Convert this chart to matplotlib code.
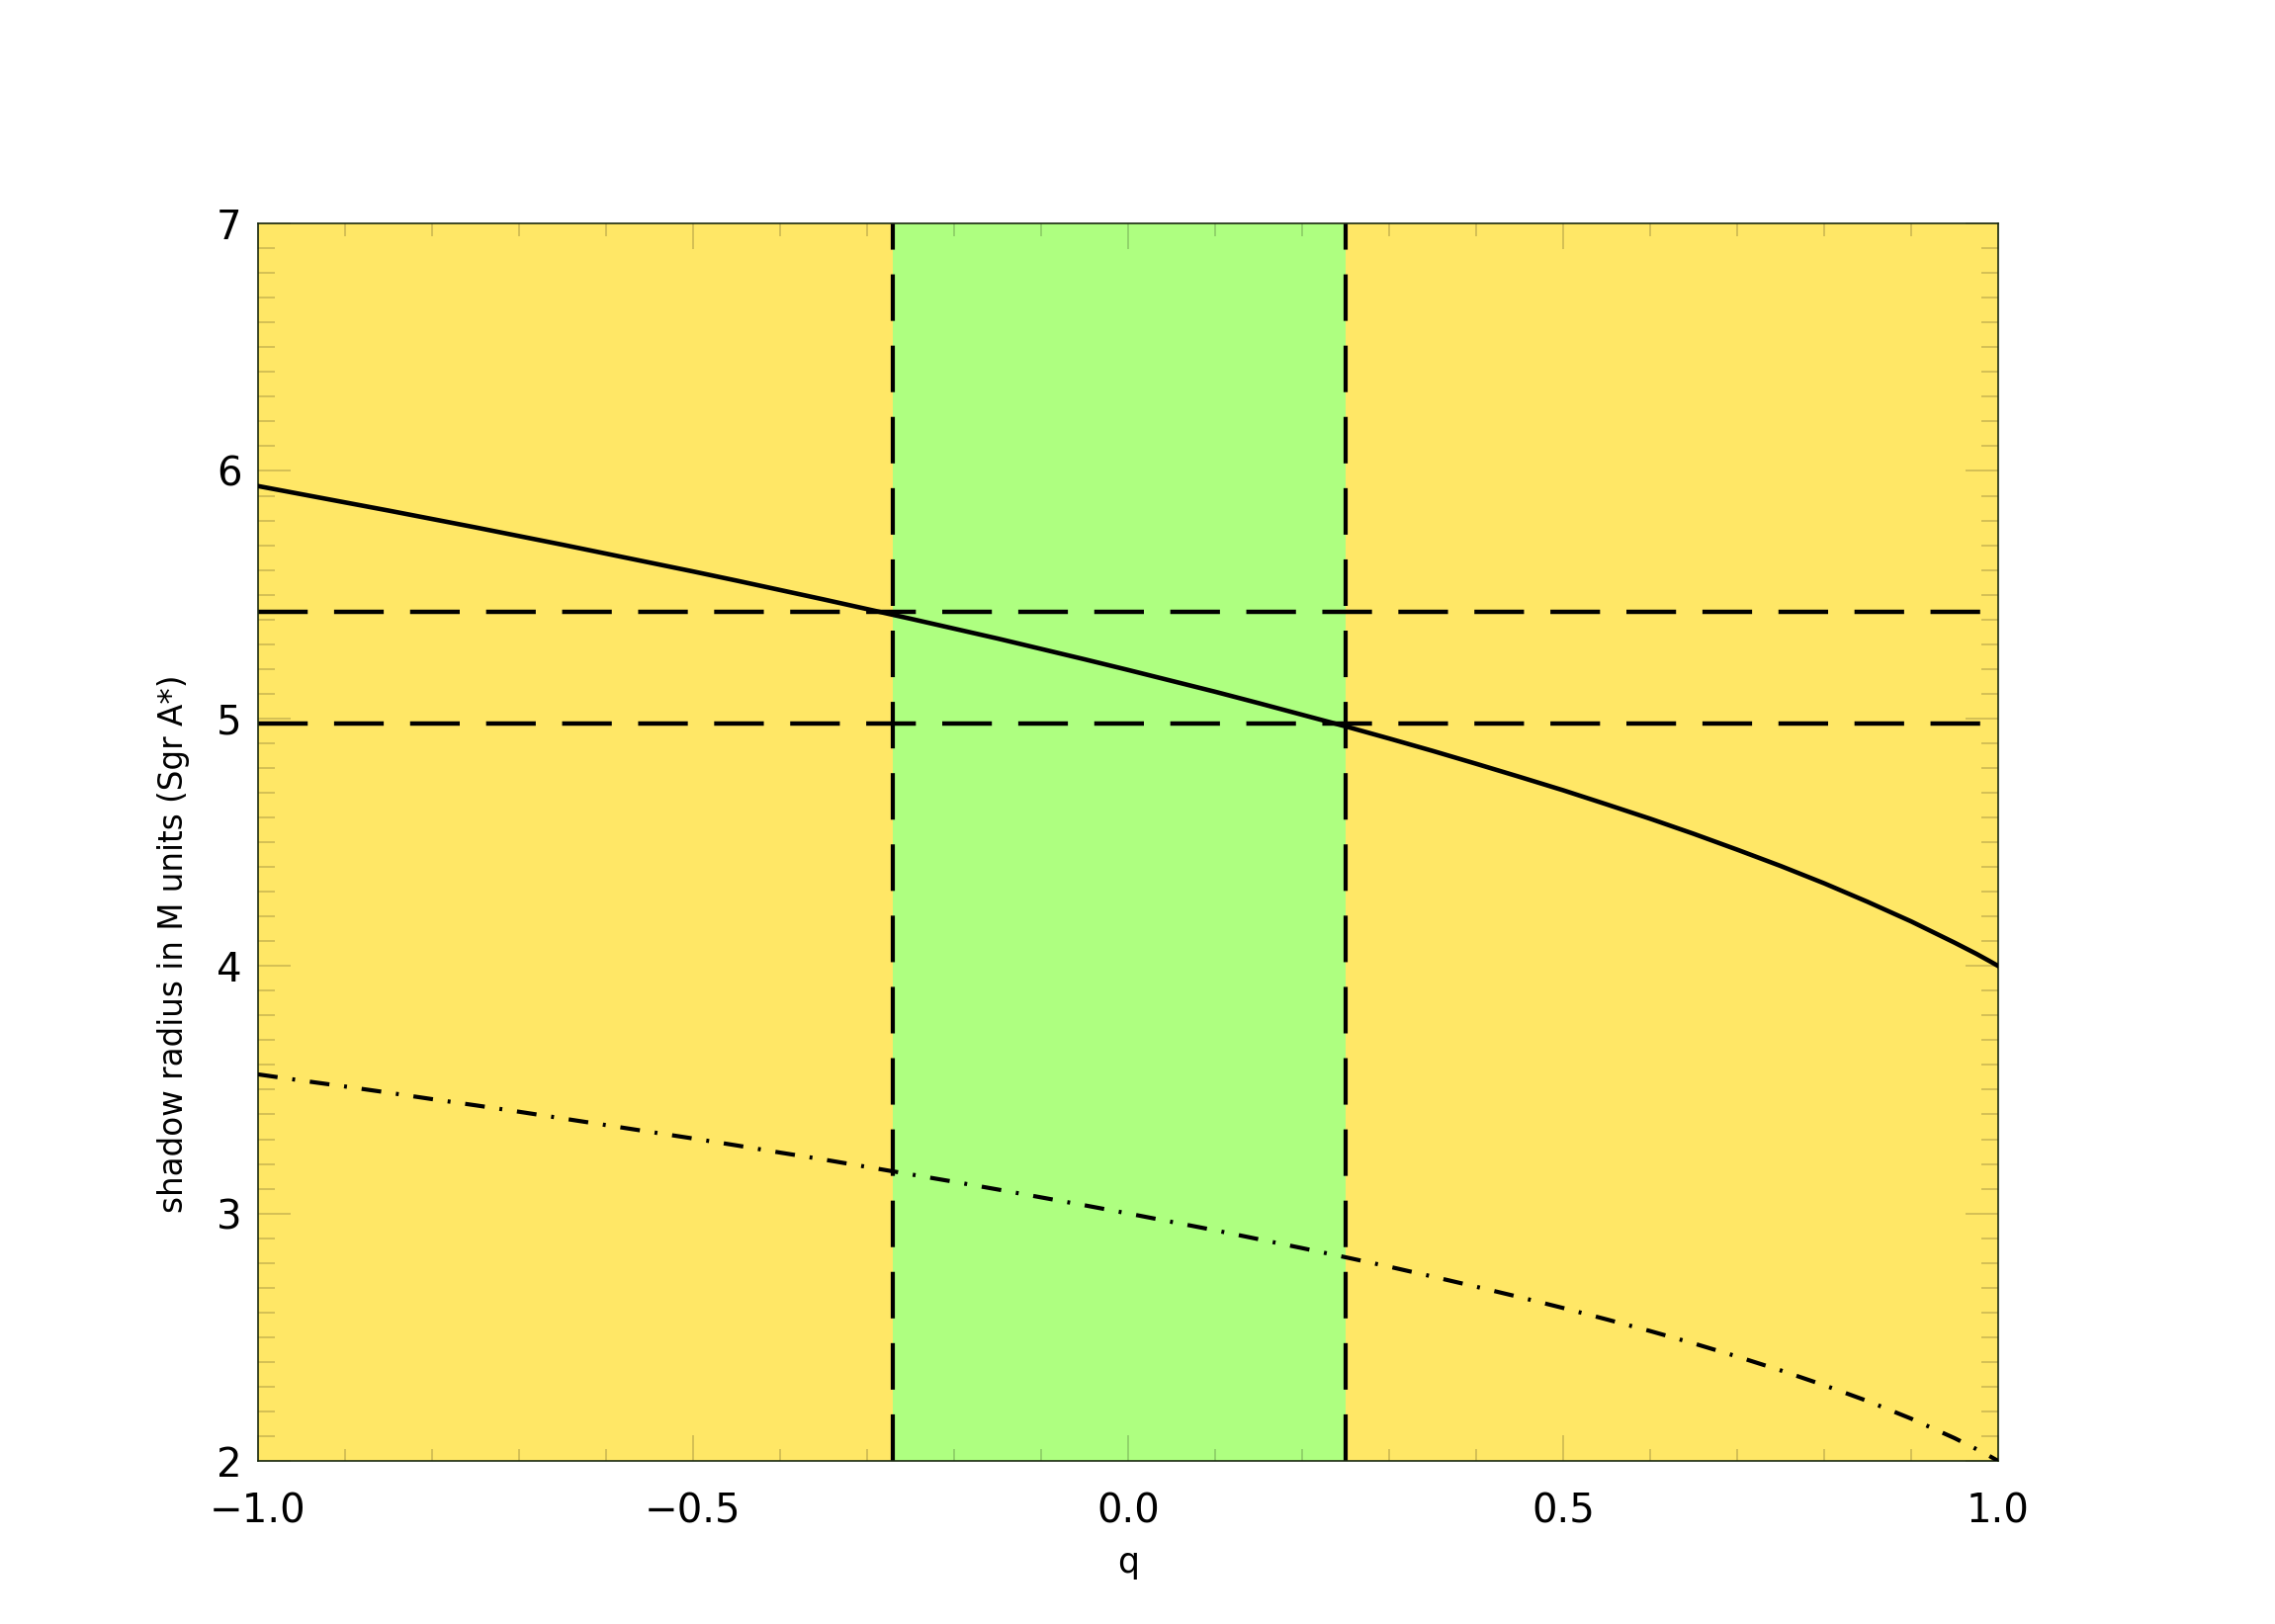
import numpy as np
import matplotlib
matplotlib.use("Agg")
import matplotlib.pyplot as plt
from matplotlib.ticker import MultipleLocator, FuncFormatter

# values
q = [-1.0, -0.95, -0.9, -0.85, -0.8, -0.75, -0.7, -0.65, -0.6, -0.55, -0.5,
     -0.45, -0.4, -0.35, -0.3, -0.25, -0.2, -0.15, -0.1, -0.05, 0.0,
     0.05, 0.1, 0.15, 0.2, 0.25, 0.3, 0.35, 0.4, 0.45, 0.5,
     0.55, 0.6, 0.65, 0.7, 0.75, 0.8, 0.85, 0.9, 0.95, 0.975, 0.99, 1.0]
shadow = [5.939, 5.906, 5.873, 5.840, 5.806, 5.772, 5.737, 5.702, 5.666, 5.630, 5.594,
          5.557, 5.519, 5.481, 5.442, 5.403, 5.363, 5.323, 5.281, 5.239, 5.196,
          5.152, 5.108, 5.062, 5.015, 4.968, 4.919, 4.869, 4.817, 4.764, 4.710,
          4.653, 4.595, 4.534, 4.470, 4.404, 4.334, 4.259, 4.180, 4.094, 4.049, 4.020, 4.000]
photon = [3.562, 3.537, 3.513, 3.488, 3.462, 3.437, 3.411, 3.384, 3.357, 3.330, 3.303,
          3.275, 3.246, 3.218, 3.188, 3.158, 3.128, 3.097, 3.065, 3.033, 3.000,
          2.966, 2.932, 2.896, 2.860, 2.823, 2.785, 2.745, 2.704, 2.662, 2.618,
          2.572, 2.525, 2.475, 2.422, 2.366, 2.306, 2.242, 2.171, 2.092, 2.048, 2.020, 2.000]

q_low, q_high = -0.27, 0.25      # allowed band (green)
r_upper, r_lower = 5.43, 4.98    # observed shadow bounds
x_end = 0.985

yellow = "#ffe766"
green = "#aeff80"

fig = plt.figure(figsize=(23.01, 16.43), dpi=100)
ax = fig.add_axes([0.1134, 0.1004, 0.7649, 0.762])
ax.set_facecolor(yellow)
ax.axvspan(q_low, q_high, color=green, lw=0, zorder=0)

ax.plot(q, shadow, color="black", lw=3.3, zorder=3)
ax.plot(q, photon, color="black", lw=3.0, dashes=(4.8, 3.6, 0.7, 3.6), zorder=3)

for r in (r_upper, r_lower):
    ax.plot([-1.0, x_end], [r, r], color="black", lw=3.2, dashes=(11.3, 6), zorder=2)
for v in (q_low, q_high):
    ax.plot([v, v], [2, 7], color="black", lw=3.0, dashes=(11.3, 6), zorder=2)

ax.set_xlim(-1, 1)
ax.set_ylim(2, 7)
ax.xaxis.set_major_locator(MultipleLocator(0.5))
ax.xaxis.set_minor_locator(MultipleLocator(0.1))
ax.yaxis.set_major_locator(MultipleLocator(1))
ax.yaxis.set_minor_locator(MultipleLocator(0.1))
ax.xaxis.set_major_formatter(FuncFormatter(lambda v, p: f"{v:.1f}".replace("-", "\u2212")))
ax.yaxis.set_major_formatter(FuncFormatter(lambda v, p: f"{v:.0f}"))

tc = (0, 0, 0, 0.18)
ax.tick_params(axis="both", which="both", direction="in", top=True, right=True,
               color=tc, width=1.3, labelsize=29)
ax.tick_params(axis="x", which="major", length=19, pad=23)
ax.tick_params(axis="x", which="minor", length=9)
ax.tick_params(axis="y", which="major", length=24, pad=12)
ax.tick_params(axis="y", which="minor", length=12)

for s in ax.spines.values():
    s.set_linewidth(1.2)
    s.set_color("#1a2a10")

ax.set_xlabel("q", fontsize=25, labelpad=10)
ax.set_ylabel("shadow radius in M units (Sgr A*)", fontsize=23.5)
ax.yaxis.set_label_coords(-0.039, 0.418)

fig.savefig("out.png", dpi=100)
